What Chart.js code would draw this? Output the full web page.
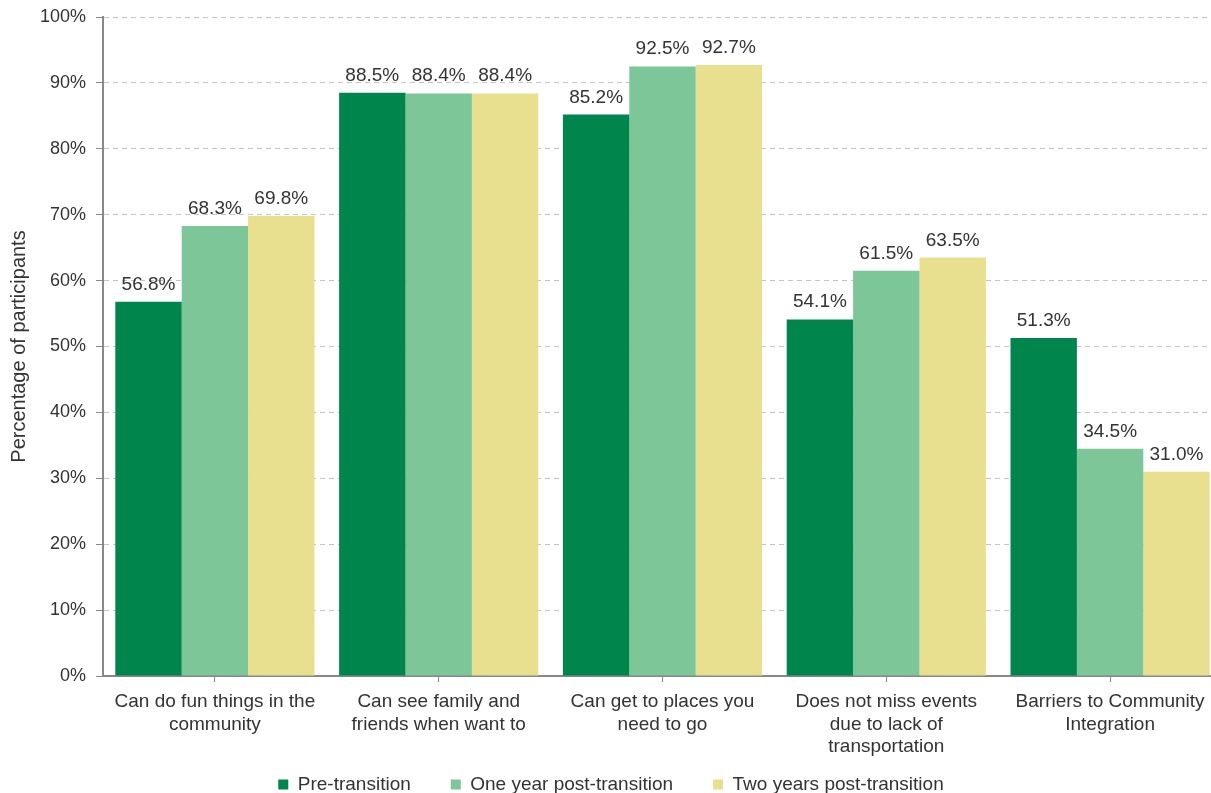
<!DOCTYPE html>
<html>
<head>
<meta charset="utf-8">
<script src="https://cdn.jsdelivr.net/npm/chart.js@4/dist/chart.umd.min.js"></script>
<style>
  html, body { margin: 0; padding: 0; background: #fff; overflow: hidden; }
  #wrap { width: 1224px; height: 793px; position: relative; }
</style>
</head>
<body>
<div id="wrap"><canvas id="chart"></canvas></div>
<script>
// ================================
// DATA
// ================================
const categories = [
  ["Can do fun things in the", "community"],
  ["Can see family and", "friends when want to"],
  ["Can get to places you", "need to go"],
  ["Does not miss events", "due to lack of", "transportation"],
  ["Barriers to Community", "Integration"]
];
const preTransition = [56.8, 88.5, 85.2, 54.1, 51.3];
const oneYearPost = [68.3, 88.4, 92.5, 61.5, 34.5];
const twoYearsPost = [69.8, 88.4, 92.7, 63.5, 31.0];
const yTicks = [0, 10, 20, 30, 40, 50, 60, 70, 80, 90, 100];

const FONT = "'Liberation Sans', Arial, sans-serif";
const TEXT = "#333333";
const LEGEND_PAD = 40;

// ================================
// VALUE LABELS ABOVE BARS
// ================================
const valueLabels = {
  id: "valueLabels",
  afterDatasetsDraw(chart) {
    const ctx = chart.ctx;
    ctx.save();
    ctx.font = "19px " + FONT;
    ctx.fillStyle = TEXT;
    ctx.textAlign = "center";
    ctx.textBaseline = "alphabetic";
    chart.data.datasets.forEach((ds, i) => {
      chart.getDatasetMeta(i).data.forEach((bar, j) => {
        ctx.fillText(ds.data[j].toFixed(1) + "%", bar.x, bar.y - 12);
      });
    });
    ctx.restore();
  }
};

// ================================
// LEGEND: wide item spacing, short box, pinned near the bottom
// ================================
const legendPlace = {
  id: "legendPlace",
  afterInit(chart) {
    const lg = chart.legend;
    if (!lg) return;
    const fit = lg.fit.bind(lg);
    lg.fit = function () {
      fit();
      this.height = 35;
    };
  },
  afterLayout(chart) {
    const lg = chart.legend;
    if (!lg) return;
    lg.top = 783 - LEGEND_PAD - 8;
    lg.bottom = chart.height;
  }
};

new Chart(document.getElementById("chart"), {
  type: "bar",
  data: {
    labels: categories,
    datasets: [
      { label: "Pre-transition", data: preTransition, backgroundColor: "#00864C" },
      { label: "One year post-transition", data: oneYearPost, backgroundColor: "#7CC698" },
      { label: "Two years post-transition", data: twoYearsPost, backgroundColor: "#E8DF8F" }
    ]
  },
  options: {
    responsive: true,
    maintainAspectRatio: false,
    animation: false,
    layout: { padding: { top: 17, right: 2, left: 0, bottom: 0 } },
    datasets: { bar: { categoryPercentage: 0.89, barPercentage: 1.0 } },
    plugins: {
      tooltip: { enabled: false },
      legend: {
        position: "bottom",
        labels: {
          font: { family: FONT, size: 19 },
          color: TEXT,
          boxWidth: 10,
          boxHeight: 10,
          padding: LEGEND_PAD
        }
      }
    },
    scales: {
      x: {
        grid: {
          offset: false,
          drawOnChartArea: false,
          drawTicks: true,
          tickLength: 6,
          color: "#888"
        },
        border: { display: true, color: "#888", width: 2 },
        ticks: {
          font: { family: FONT, size: 19, lineHeight: 1.18 },
          color: TEXT,
          padding: 9,
          autoSkip: false,
          maxRotation: 0
        },
        afterFit(scale) { scale.height = 82; }
      },
      y: {
        min: 0,
        max: 100,
        afterBuildTicks(scale) { scale.ticks = yTicks.map(v => ({ value: v })); },
        afterFit(scale) {
          scale.width = 103;
          scale.paddingTop = 0;
          scale.paddingBottom = 0;
        },
        title: {
          display: true,
          text: "Percentage of participants",
          font: { family: FONT, size: 20 },
          color: TEXT,
          padding: { top: 7, bottom: 0 }
        },
        grid: {
          color: "#c4c4c4",
          lineWidth: 1,
          tickLength: 7,
          tickColor: "#888",
          tickBorderDash: [1, 0]
        },
        border: { display: true, color: "#888", width: 2, dash: [5, 4] },
        ticks: {
          font: { family: FONT, size: 18 },
          color: TEXT,
          padding: 10,
          callback: (v) => v + "%"
        }
      }
    }
  },
  plugins: [valueLabels, legendPlace]
});
</script>
</body>
</html>
